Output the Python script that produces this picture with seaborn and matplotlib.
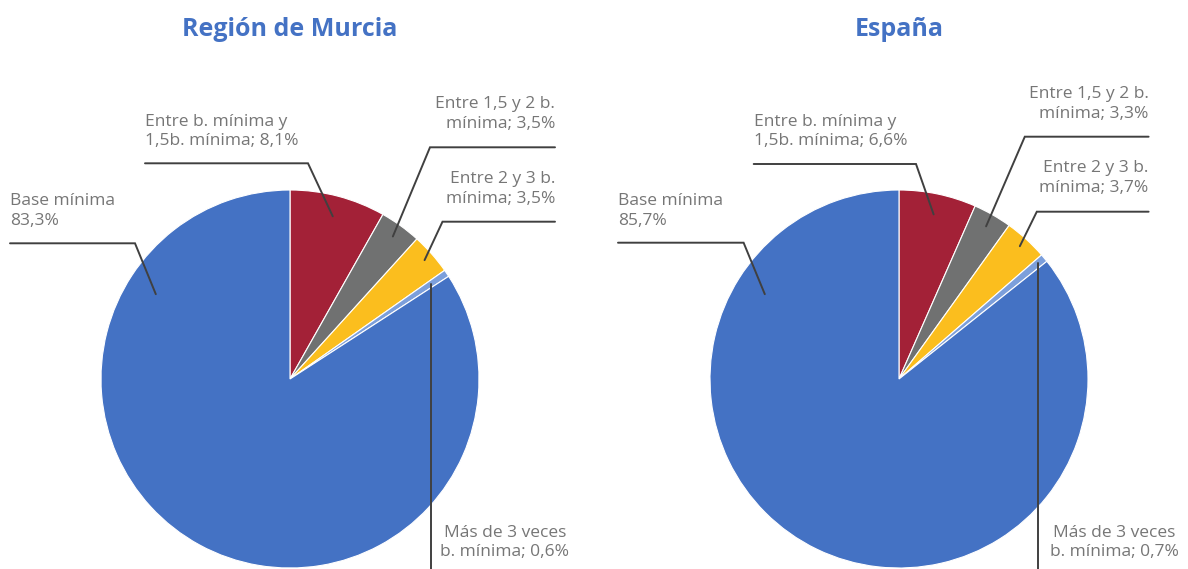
import matplotlib
matplotlib.use("Agg")
import numpy as np
import matplotlib.pyplot as plt
import seaborn as sns

# ---------------- data ----------------
titles = ["Región de Murcia", "España"]
# slices in clockwise order starting at 12 o'clock
segment_names = [
    "Entre b. mínima y 1,5b. mínima",
    "Entre 1,5 y 2 b. mínima",
    "Entre 2 y 3 b. mínima",
    "Más de 3 veces b. mínima",
    "Base mínima",
]
label_templates = [
    "Entre b. mínima y\n1,5b. mínima; {}",
    "Entre 1,5 y 2 b.\nmínima; {}",
    "Entre 2 y 3 b.\nmínima; {}",
    "Más de 3 veces\nb. mínima; {}",
    "Base mínima\n{}",
]
murcia_values = [8.1, 3.5, 3.5, 0.6, 83.3]
espana_values = [6.6, 3.3, 3.7, 0.7, 85.7]

slice_colors = ["#A32137", "#707171", "#FBBE1E", "#7C9FDB", "#4472C4"]
title_color = "#4472C4"
text_color = "#767676"
line_color = "#404040"

# ---------------- style ----------------
sns.set_theme(style="white")
plt.rcParams["font.family"] = ["Open Sans", "DejaVu Sans"]

W, H = 1188, 569
fig = plt.figure(figsize=(W / 100, H / 100), dpi=100)
ax = fig.add_axes([0, 0, 1, 1])


def Y(y):
    return H - y


def fmt(v):
    return f"{v:.1f}".replace(".", ",") + "%"


# layout (pixel positions, y measured from top)
layouts = [
    dict(center=(290, 379), r=189, title_x=290,
         labels=[
             dict(x=145, y=131.5, ha="left", line_y=163.3, x0=145, x1=308, f=0.89),
             dict(x=555, y=114.2, ha="right", line_y=147.3, x0=555, x1=430, f=0.93),
             dict(x=555, y=189.2, ha="right", line_y=221.7, x0=555, x1=442.5, f=0.95),
             dict(x=505, y=542.5, ha="center", vertical=True, f=0.90),
             dict(x=10, y=211, ha="left", line_y=243.3, x0=10, x1=135, f=0.84, ang=147.7),
         ]),
    dict(center=(899, 379), r=189, title_x=899,
         labels=[
             dict(x=753.7, y=131.3, ha="left", line_y=164, x0=753.7, x1=916, f=0.89),
             dict(x=1148.6, y=103.8, ha="right", line_y=136.7, x0=1148.6, x1=1024.8, f=0.93),
             dict(x=1148.6, y=178, ha="right", line_y=211.7, x0=1148.6, x1=1036.8, f=0.95),
             dict(x=1114, y=542.5, ha="center", vertical=True, f=0.96),
             dict(x=618, y=211, ha="left", line_y=242.7, x0=618, x1=743.6, f=0.84, ang=147.7),
         ]),
]

datasets = [murcia_values, espana_values]

for title, values, lay in zip(titles, datasets, layouts):
    cx, cy = lay["center"]
    r = lay["r"]
    wedges, _ = ax.pie(values, colors=slice_colors, startangle=90,
                       counterclock=False, center=(cx, Y(cy)), radius=r,
                       wedgeprops=dict(edgecolor="white", linewidth=0.8))
    ax.text(lay["title_x"], Y(36), title, ha="center", va="baseline",
            fontsize=18, fontweight="bold", color=title_color)
    for w, v, tmpl, lab in zip(wedges, values, label_templates, lay["labels"]):
        ang = lab.get("ang", 0.5 * (w.theta1 + w.theta2))
        a = np.deg2rad(ang)
        axp = w.center[0] + lab["f"] * w.r * np.cos(a)
        ayp = w.center[1] + lab["f"] * w.r * np.sin(a)
        if lab.get("vertical"):
            ax.plot([axp, axp], [ayp, 0], color=line_color, lw=1.4, zorder=5)
        else:
            ax.plot([lab["x0"], lab["x1"], axp], [Y(lab["line_y"])] * 2 + [ayp],
                    color=line_color, lw=1.4, zorder=5, solid_joinstyle="miter")
        ax.text(lab["x"], Y(lab["y"]), tmpl.format(fmt(v)), ha=lab["ha"],
                va="center", multialignment=lab["ha"], fontsize=12.5,
                color=text_color, linespacing=1.3)

ax.set_xlim(0, W)
ax.set_ylim(0, H)
ax.set_aspect("equal")
ax.axis("off")
fig.savefig("out.png", dpi=100, facecolor="white")
